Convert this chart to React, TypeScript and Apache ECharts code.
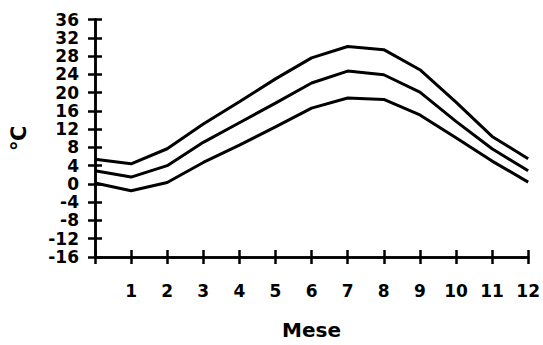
import React, { useEffect, useRef } from "react";
import * as echarts from "echarts";

const months = [0, 1, 2, 3, 4, 5, 6, 7, 8, 9, 10, 11, 12];
const maxTemp = [5.4, 4.4, 7.7, 13.1, 18.0, 23.0, 27.6, 30.1, 29.4, 25.0, 17.9, 10.4, 5.5];
const meanTemp = [2.9, 1.5, 4.0, 9.1, 13.4, 17.7, 22.1, 24.7, 23.9, 20.1, 13.7, 7.7, 2.9];
const minTemp = [0.2, -1.5, 0.3, 4.7, 8.5, 12.5, 16.6, 18.8, 18.5, 15.1, 10.1, 5.0, 0.4];
const xTickLabels = ["", "1", "2", "3", "4", "5", "6", "7", "8", "9", "10", "11", "12"];

const FONT = "'DejaVu Sans', sans-serif";

export default function App() {
  const ref = useRef<HTMLDivElement>(null);
  useEffect(() => {
    if (!ref.current) return;
    const chart = echarts.init(ref.current, null, { renderer: "svg" });
    const axisLine = { show: true, onZero: false, lineStyle: { color: "#000", width: 2.5 } };
    const tickStyle = { show: true, lineStyle: { color: "#000", width: 2.5 }, length: 7 };
    const mk = (name: string, data: number[]) => ({
      type: "line",
      name,
      data: months.map((m, i) => [m, data[i]]),
      showSymbol: false,
      symbol: "none",
      lineStyle: { color: "#000", width: 3 },
      itemStyle: { color: "#000" },
      xAxisIndex: 0,
      yAxisIndex: 0,
    });
    chart.setOption({
      animation: false,
      backgroundColor: "#fff",
      grid: { left: 93, right: 13, top: 19.5, bottom: 88, containLabel: false },
      xAxis: [
        {
          type: "value",
          min: 0,
          max: 12,
          interval: 1,
          position: "bottom",
          name: "Mese",
          nameLocation: "middle",
          nameGap: 63,
          nameTextStyle: { color: "#000", fontSize: 20, fontWeight: "bold", fontFamily: FONT },
          axisLine,
          axisTick: { ...tickStyle, inside: false },
          splitLine: { show: false },
          axisLabel: {
            color: "#000",
            fontSize: 17,
            fontWeight: "bold",
            fontFamily: FONT,
            margin: 25,
            formatter: (v: number) => xTickLabels[v] ?? "",
          },
        },
        {
          type: "value",
          min: 0,
          max: 12,
          interval: 1,
          position: "bottom",
          offset: 0,
          axisLine,
          axisTick: { ...tickStyle, inside: true },
          splitLine: { show: false },
          axisLabel: { show: false },
        },
      ],
      yAxis: [
        {
          type: "value",
          min: -16,
          max: 36,
          interval: 4,
          position: "left",
          name: "℃",
          nameLocation: "middle",
          nameGap: 66,
          nameRotate: 90,
          nameTextStyle: { color: "#000", fontSize: 21, fontWeight: "bold", fontFamily: FONT },
          axisLine,
          axisTick: { ...tickStyle, inside: false },
          splitLine: { show: false },
          axisLabel: {
            color: "#000",
            fontSize: 17,
            fontWeight: "bold",
            fontFamily: FONT,
            margin: 16,
            lineHeight: 17,
          },
        },
        {
          type: "value",
          min: -16,
          max: 36,
          interval: 4,
          position: "left",
          offset: 0,
          axisLine,
          axisTick: { ...tickStyle, inside: true },
          splitLine: { show: false },
          axisLabel: { show: false },
        },
      ],
      series: [mk("max", maxTemp), mk("mean", meanTemp), mk("min", minTemp)],
    });
    return () => chart.dispose();
  }, []);
  return <div ref={ref} style={{ width: 543, height: 345, position: "absolute", left: 0, top: 0 }} />;
}
